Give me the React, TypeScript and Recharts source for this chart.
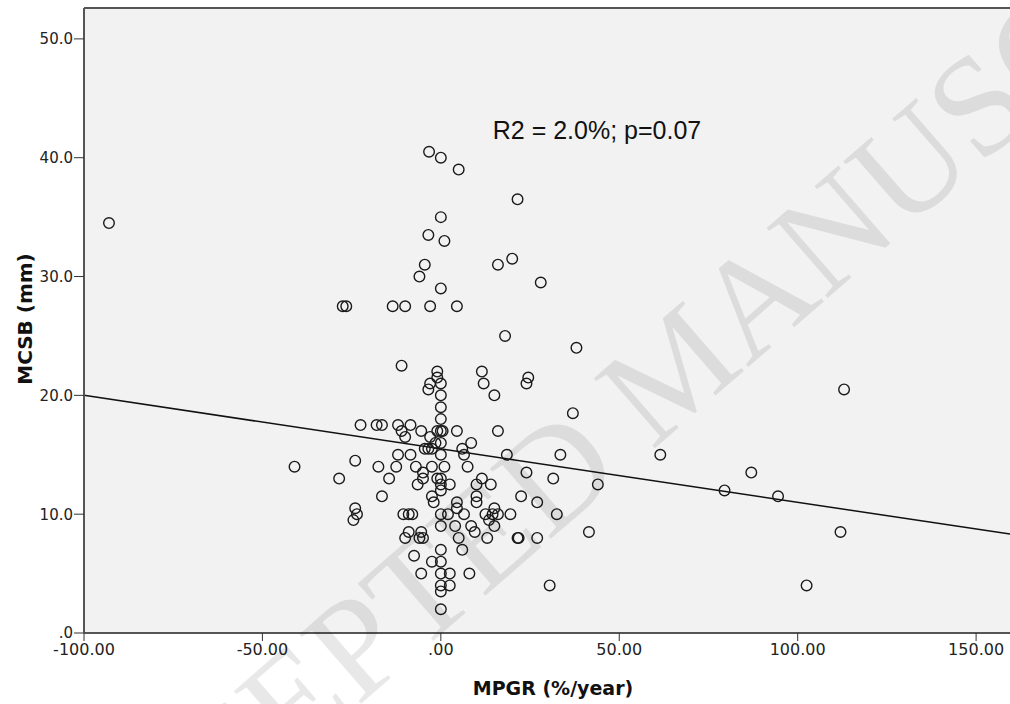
import { ScatterChart, Scatter, XAxis, YAxis, CartesianGrid, ReferenceLine } from 'recharts';

// MPGR (%/year) and MCSB (mm), same order in both lists
const mpgr = [
  -93, -41, -28.5, -27.5, -26.5, -24, -24, -23.5, -24.5, -22.5,
  -18, -16.5, -17.5, -16.5, -14.5, -13.5, -12, -12, -12.5, -11,
  -11, -10, -10, -10.5, -9, -8, -8.5, -8.5, -9, -10,
  -7, -6.5, -7.5, -6, -6, -5.5, -5.5, -5, -5, -5,
  -5.5, -4.5, -4.5, -3.5, -3.5, -3.3, -3, -3, -3.5, -3,
  -2.5, -2.5, -2.5, -2, -2.5, -1.5, -1, -1, -1, -1,
  0, 0, 1, 0, 0, 0, 0, 0, 0, 0.5,
  0, 0, 1, 0, 0, 0, 2.5, 0, 2, 0,
  0, 0, 0, 2.5, 0, 2.5, 0, 0, 5, 4.5,
  4.5, 4.5, 4.5, 4, 5, 6, 6.5, 6.5, 6, 7.5,
  8, 8.5, 8.5, 9.5, 10, 10, 10, 11.5, 12, 11.5,
  12.5, 13, 13.5, 14, 14.5, 15, 15, 15, 16, 16,
  16, 18, 18.5, 19.5, 20, 21.5, 21.5, 21.8, 22.5, 24,
  24.5, 24, 27, 27, 28, 30.5, 31.5, 32.5, 33.5, 37,
  38, 41.5, 44, 61.5, 79.5, 87, 94.5, 102.5, 112, 113,
];
const mcsb = [
  34.5, 14, 13, 27.5, 27.5, 14.5, 10.5, 10, 9.5, 17.5,
  17.5, 17.5, 14, 11.5, 13, 27.5, 17.5, 15, 14, 22.5,
  17, 16.5, 27.5, 10, 10, 10, 17.5, 15, 8.5, 8,
  14, 12.5, 6.5, 30, 8, 17, 8.5, 8, 13.5, 13,
  5, 31, 15.5, 33.5, 15.5, 40.5, 27.5, 21, 20.5, 16.5,
  15.5, 14, 11.5, 11, 6, 16, 22, 21.5, 17, 13,
  40, 35, 33, 29, 21, 20, 19, 18, 17, 17,
  16, 15, 14, 13, 12.5, 12, 12.5, 10, 10, 9,
  7, 6, 5, 5, 4, 4, 3.5, 2, 39, 27.5,
  17, 11, 10.5, 9, 8, 15.5, 15, 10, 7, 14,
  5, 16, 9, 8.5, 12.5, 11.5, 11, 22, 21, 13,
  10, 8, 9.5, 12.5, 10, 10.5, 9, 20, 17, 10,
  31, 25, 15, 10, 31.5, 36.5, 8, 8, 11.5, 13.5,
  21.5, 21, 11, 8, 29.5, 4, 13, 10, 15, 18.5,
  24, 8.5, 12.5, 15, 12, 13.5, 11.5, 4, 8.5, 20.5,
];

const xTicks = [-100, -50, 0, 50, 100, 150];
const yTicks = [0, 10, 20, 30, 40, 50];
const xDomain = [-100, 159.5];
const yDomain = [0, 52.6];

// linear fit line
const fitIntercept = 15.5;
const fitSlope = -0.045;
const fit = (x: number) => fitIntercept + fitSlope * x;

const points = mpgr.map((x, i) => ({ x, y: mcsb[i] }));

const Ring = (props: any) => {
  const { cx, cy } = props;
  return <circle cx={cx} cy={cy} r={5.3} fill="none" stroke="#1a1a1a" strokeWidth={1.4} />;
};

const tickStyle = { fontSize: 15, fill: '#222', fontFamily: 'DejaVu Sans' };

export default function App() {
  return (
    <div style={{ position: 'absolute', left: 0, top: 0, width: 1010, height: 704, background: '#fff' }}>
      <ScatterChart width={1010} height={704} margin={{ top: 8, right: 0, bottom: 0, left: 0 }}>
        <CartesianGrid horizontal={false} vertical={false} fill="#f2f2f2" stroke="none" />
        <XAxis
          dataKey="x"
          type="number"
          domain={xDomain}
          ticks={xTicks}
          allowDataOverflow
          height={71}
          tickSize={8}
          tickMargin={3}
          tickFormatter={(v: number) => (v === 0 ? '.00' : v.toFixed(2))}
          axisLine={{ stroke: '#555', strokeWidth: 2 }}
          tickLine={{ stroke: '#333' }}
          tick={{ ...tickStyle, fontSize: 16 }}
        />
        <YAxis
          dataKey="y"
          type="number"
          domain={yDomain}
          ticks={yTicks}
          allowDataOverflow
          width={84}
          tickSize={10}
          tickMargin={1}
          tickFormatter={(v: number) => (v === 0 ? '.0' : v.toFixed(1))}
          axisLine={{ stroke: '#555', strokeWidth: 2 }}
          tickLine={{ stroke: '#333' }}
          tick={tickStyle}
        />
        <ReferenceLine y={yDomain[1]} stroke="#555" strokeWidth={2} />
        <ReferenceLine
          segment={[
            { x: xDomain[0], y: fit(xDomain[0]) },
            { x: xDomain[1], y: fit(xDomain[1]) },
          ]}
          stroke="#111"
          strokeWidth={1.5}
        />
        <Scatter data={points} shape={<Ring />} isAnimationActive={false} />
      </ScatterChart>
      <svg width={1010} height={704} style={{ position: 'absolute', left: 0, top: 0, pointerEvents: 'none' }}>
        <text
          x={707}
          y={403}
          textAnchor="middle"
          fontFamily="Liberation Serif"
          fontSize={142}
          fill="rgba(0,0,0,0.09)"
          transform="rotate(-41 707 403)"
        >
          ACCEPTED MANUSCRIPT
        </text>
        <text x={597} y={139} textAnchor="middle" fontFamily="Liberation Sans" fontSize={25} fill="#111">
          R2 = 2.0%; p=0.07
        </text>
        <text x={553} y={695} textAnchor="middle" fontFamily="DejaVu Sans" fontWeight="bold" fontSize={19} fill="#111">
          MPGR (%/year)
        </text>
        <text
          x={32}
          y={319}
          textAnchor="middle"
          fontFamily="DejaVu Sans"
          fontWeight="bold"
          fontSize={20}
          fill="#111"
          transform="rotate(-90 32 319)"
        >
          MCSB (mm)
        </text>
      </svg>
    </div>
  );
}
